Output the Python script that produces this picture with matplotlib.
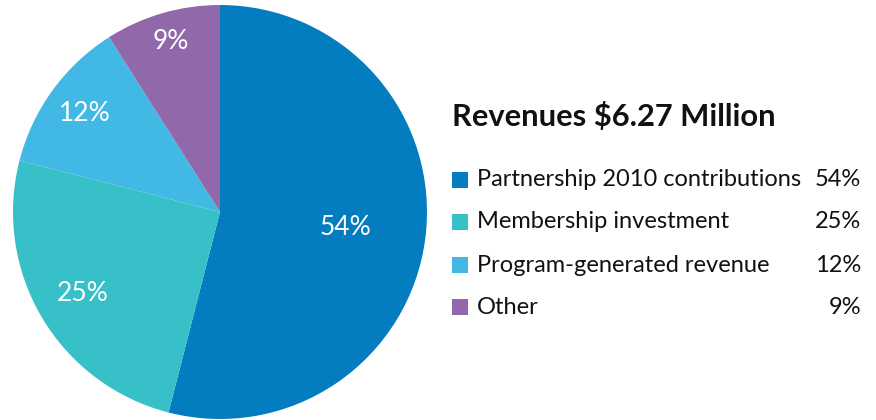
import numpy as np
import matplotlib
matplotlib.use("Agg")
import matplotlib.pyplot as plt
from matplotlib.patches import Rectangle

plt.rcParams['font.family'] = ['Lato', 'DejaVu Sans']

labels = ["Partnership 2010 contributions", "Membership investment",
          "Program-generated revenue", "Other"]
shares = [54, 25, 12, 9]
colors = ["#047dc0", "#37c0c8", "#42b9e4", "#9169ab"]
label_dist = [0.61, 0.77, 0.81, 0.86]
title = "Revenues $6.27 Million"

fig = plt.figure(figsize=(8.76, 4.2), dpi=100)
ax = fig.add_axes([13 / 876, 1 / 420, 414 / 876, 414 / 420])

wedges, texts, autotexts = ax.pie(
    shares, colors=colors, startangle=90, counterclock=False,
    autopct="%d%%", pctdistance=0.7,
    wedgeprops=dict(linewidth=0),
    textprops=dict(color="white", fontsize=19))

# move each percentage label to its own distance along the wedge bisector
for w, t, d in zip(wedges, autotexts, label_dist):
    mid = np.deg2rad((w.theta1 + w.theta2) / 2)
    t.set_position((d * np.cos(mid), d * np.sin(mid)))

ax.set_xlim(-1, 1)
ax.set_ylim(-1, 1)
ax.set_aspect("equal")
ax.axis("off")

W, H = 876, 420
fig.text(452 / W, 1 - 117 / H, title, fontsize=22.2, fontweight="bold",
         va="center", ha="left", color="#111111")

row_y = [180, 222, 265, 307]
for lab, val, col, y in zip(labels, shares, colors, row_y):
    fig.add_artist(Rectangle((452 / W, 1 - (y + 8) / H), 16 / W, 16 / H,
                             transform=fig.transFigure, color=col, lw=0))
    fig.text(477 / W, 1 - y / H, lab, fontsize=17, va="center", ha="left",
             color="#111111")
    fig.text(861 / W, 1 - y / H, f"{val}%", fontsize=17, va="center",
             ha="right", color="#111111")

fig.savefig("out.png", dpi=100)
